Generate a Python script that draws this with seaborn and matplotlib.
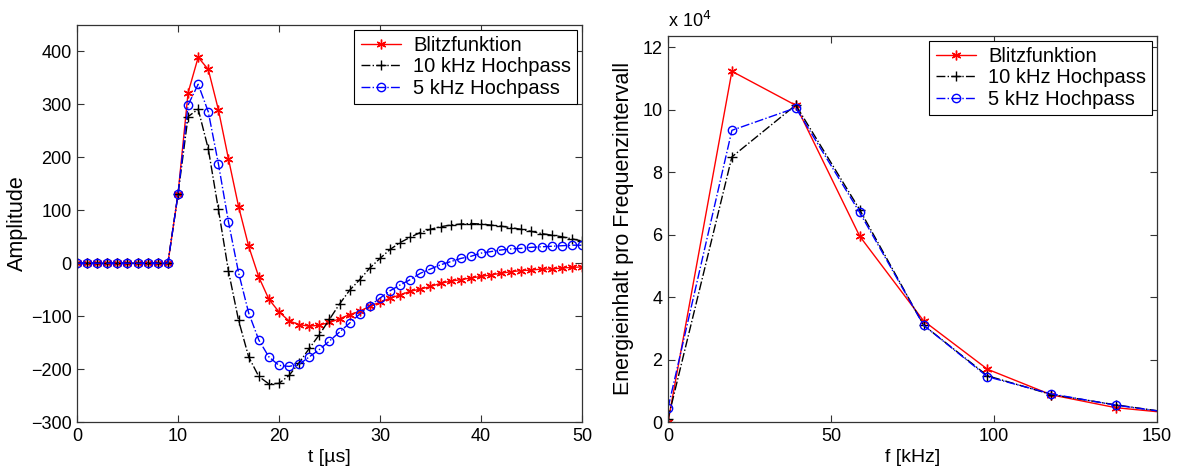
import numpy as np
import pandas as pd
import matplotlib
matplotlib.use("Agg")
import matplotlib.pyplot as plt
import seaborn as sns

# ---- data: left panel (time signal) ----
t_us = list(range(0, 51))
blitz = [0, 0, 0, 0, 0, 0, 0, 0, 0, 0,
         130, 322, 389, 366, 290, 197, 107, 32, -26, -68,
         -92, -109, -116, -119, -117, -112, -105, -97, -91, -81,
         -74, -66, -60, -53, -49, -44, -38, -34, -31, -28,
         -25, -22, -19, -16, -14, -13, -11, -11, -9, -8, -7]
hp10 = [0, 0, 0, 0, 0, 0, 0, 0, 0, 0,
        130, 277, 291, 216, 102, -15, -108, -177, -214, -228,
        -227, -212, -188, -161, -135, -106, -77, -51, -31, -9,
        9, 26, 39, 49, 58, 64, 69, 72, 74, 75,
        74, 72, 70, 67, 64, 60, 56, 53, 50, 46, 42]
hp5 = [0, 0, 0, 0, 0, 0, 0, 0, 0, 0,
       130, 299, 338, 286, 188, 78, -18, -94, -145, -177,
       -193, -195, -191, -177, -163, -147, -130, -113, -96, -80,
       -66, -52, -41, -31, -19, -11, -3, 3, 9, 13,
       19, 22, 25, 27, 28, 30, 31, 32, 33, 34, 34]

# ---- data: right panel (energy per frequency interval, x 10^4) ----
f_khz = [0, 19.6, 39.2, 58.8, 78.4, 98.0, 117.6, 137.3, 156.9]
e_blitz = [0.0, 11.23, 10.14, 5.95, 3.24, 1.69, 0.87, 0.46, 0.26]
e_hp10 = [0.1, 8.49, 10.15, 6.80, 3.10, 1.48, 0.88, 0.55, 0.26]
e_hp5 = [0.45, 9.34, 10.06, 6.71, 3.10, 1.45, 0.90, 0.54, 0.26]

labels = ["Blitzfunktion", "10 kHz Hochpass", "5 kHz Hochpass"]

sns.set_theme(style="white")
plt.rcParams['font.family'] = ['Liberation Sans', 'DejaVu Sans']
plt.rcParams['axes.unicode_minus'] = True
plt.rcParams['text.color'] = 'black'
plt.rcParams['axes.labelcolor'] = 'black'

fig = plt.figure(figsize=(11.79, 4.69), dpi=100)
ax1 = fig.add_axes([0.0653, 0.1002, 0.4283, 0.8465])
ax2 = fig.add_axes([0.5666, 0.1002, 0.4147, 0.8237])

asterisk = (6, 2, 0)
styles = [
    dict(color="#ff0000", linestyle="-", marker=asterisk, markersize=7,
         markerfacecolor="#ff0000", markeredgecolor="#ff0000"),
    dict(color="black", linestyle="-.", marker="+", markersize=7.5,
         markeredgecolor="black"),
    dict(color="#0000ff", linestyle="-.", marker="o", markersize=6,
         markerfacecolor="none", markeredgecolor="#0000ff"),
]

df_left = pd.DataFrame({"t": t_us, labels[0]: blitz, labels[1]: hp10, labels[2]: hp5})
df_right = pd.DataFrame({"f": f_khz, labels[0]: e_blitz, labels[1]: e_hp10, labels[2]: e_hp5})

for lab, st in zip(labels, styles):
    sns.lineplot(data=df_left, x="t", y=lab, ax=ax1, label=lab, linewidth=1.0,
                 markeredgewidth=1.0, **st)
    sns.lineplot(data=df_right, x="f", y=lab, ax=ax2, label=lab, linewidth=1.0,
                 markeredgewidth=1.0, **st)

ax1.set_xlim(0, 50)
ax1.set_ylim(-300, 450)
ax1.set_xticks([0, 10, 20, 30, 40, 50])
ax1.set_yticks([-300, -200, -100, 0, 100, 200, 300, 400])
ax1.set_xlabel("t [µs]", fontsize=14, labelpad=3)
ax1.set_ylabel("Amplitude", fontsize=15.5, labelpad=2)

ax2.set_xlim(0, 150)
ax2.set_ylim(0, 12.37)
ax2.set_xticks([0, 50, 100, 150])
ax2.set_yticks([0, 2, 4, 6, 8, 10, 12])
ax2.set_xlabel("f [kHz]", fontsize=14, labelpad=3)
ax2.set_ylabel("Energieinhalt pro Frequenzintervall", fontsize=15.5, labelpad=6)
ax2.text(0.0, 1.012, r"x 10$^4$", transform=ax2.transAxes, fontsize=13,
         ha="left", va="bottom")

for ax in (ax1, ax2):
    for sp in ax.spines.values():
        sp.set_visible(True)
        sp.set_color("#333333")
        sp.set_linewidth(0.9)
    ax.tick_params(direction="in", length=5, width=0.8, colors="#333333",
                   labelcolor="black", labelsize=13, top=True, right=True,
                   bottom=True, left=True, pad=4)
    leg = ax.legend(loc="upper right", fontsize=14.5, frameon=True, fancybox=False,
                    edgecolor="black", framealpha=1, handlelength=2.0,
                    borderpad=0.3, labelspacing=0.12, handletextpad=0.6,
                    borderaxespad=0.25)
    leg.get_frame().set_linewidth(0.8)

fig.savefig("out.png", dpi=100)
